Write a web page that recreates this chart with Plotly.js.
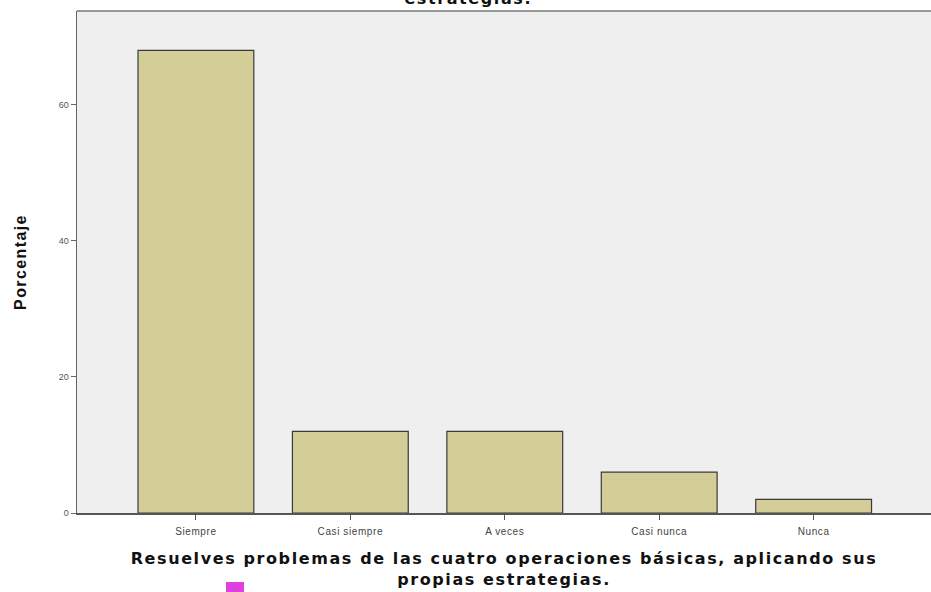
<!DOCTYPE html>
<html>
<head>
<meta charset="utf-8">
<script src="https://cdn.plot.ly/plotly-3.0.1.min.js"></script>
<style>html,body{margin:0;padding:0;background:#fff;}#chart{width:931px;height:592px;}</style>
</head>
<body>
<div id="chart"></div>
<script>
const categories = ["Siempre", "Casi siempre", "A veces", "Casi nunca", "Nunca"];
const porcentaje = [68, 12, 12, 6, 2];
const yTickValues = [0, 20, 40, 60];
const yTickLabels = ["0", "20", "40", "60"];
const titleText = "estrategias.";
const xTitleText = "Resuelves problemas de las cuatro operaciones básicas, aplicando sus<br>propias estrategias.";
const yTitleText = "Porcentaje";

const trace = {
  type: "bar",
  x: categories,
  y: porcentaje,
  width: 0.75,
  marker: {color: "#D3CD98", line: {color: "#3a3a3a", width: 1.2}},
  hoverinfo: "x+y"
};

const layout = {
  width: 931, height: 592,
  margin: {l: 77, r: 0, t: 11, b: 79},
  paper_bgcolor: "#ffffff",
  plot_bgcolor: "#EFEFEF",
  showlegend: false,
  font: {family: "Liberation Sans, Arial, sans-serif", color: "#222"},
  xaxis: {
    type: "category",
    range: [-0.77, 4.76],
    showgrid: false, zeroline: false,
    showline: true, linecolor: "#555", linewidth: 1.5,
    ticks: "outside", ticklen: 5, tickcolor: "#555", tickwidth: 1,
    ticklabelstandoff: 3,
    tickfont: {size: 10, color: "#444", family: "Liberation Sans, Arial, sans-serif"},
    title: {text: xTitleText, standoff: 17, font: {size: 16, color: "#111", family: "DejaVu Sans, sans-serif", weight: "bold"}}
  },
  yaxis: {
    range: [0, 73.8],
    tickvals: yTickValues, ticktext: yTickLabels,
    showgrid: false, zeroline: false,
    showline: true, linecolor: "#666", linewidth: 1.5,
    ticks: "outside", ticklen: 5, tickcolor: "#666", tickwidth: 1,
    tickfont: {size: 9, color: "#555"},
    title: {text: yTitleText, standoff: 28, font: {size: 16, color: "#111", family: "Liberation Sans, Arial, sans-serif", weight: "bold"}}
  },
  shapes: [
    {type: "line", xref: "paper", yref: "paper", x0: 0, x1: 1, y0: 1, y1: 1, line: {color: "#777", width: 1.5}},
    {type: "rect", xref: "paper", yref: "paper", x0: (226-77)/854, x1: (244-77)/854, y0: -(582-513)/502, y1: -(595-513)/502, fillcolor: "#E040E0", line: {width: 0}}
  ],
  annotations: [
    {text: "<b>" + titleText + "</b>", xref: "paper", yref: "paper", x: (468-77)/854, y: 1, yanchor: "middle", yshift: 13, showarrow: false,
     font: {size: 16, color: "#111", family: "DejaVu Sans, sans-serif"}}
  ]
};

Plotly.newPlot("chart", [trace], layout, {displayModeBar: false, staticPlot: true}).then(function (gd) {
  gd.querySelectorAll(".g-xtitle text").forEach(function (t) { t.style.letterSpacing = "1.6px"; });
  gd.querySelectorAll(".g-ytitle text").forEach(function (t) { t.style.letterSpacing = "1.4px"; });
  gd.querySelectorAll(".annotation-text").forEach(function (t) { t.style.letterSpacing = "1.6px"; });
  gd.querySelectorAll(".xtick text").forEach(function (t) { t.style.letterSpacing = "0.6px"; });
});
</script>
</body>
</html>
